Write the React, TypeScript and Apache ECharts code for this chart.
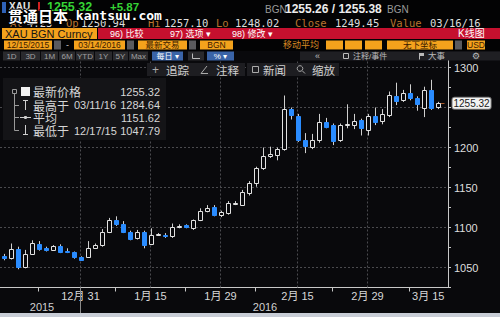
import React, { useEffect, useRef } from 'react';
import * as echarts from 'echarts';

// ---------- data ----------
const dates = [
  '2015-12-15','2015-12-16','2015-12-17','2015-12-18','2015-12-21','2015-12-22','2015-12-23','2015-12-24','2015-12-28','2015-12-29','2015-12-30','2015-12-31',
  '2016-01-04','2016-01-05','2016-01-06','2016-01-07','2016-01-08','2016-01-11','2016-01-12','2016-01-13','2016-01-14','2016-01-15',
  '2016-01-18','2016-01-19','2016-01-20','2016-01-21','2016-01-22','2016-01-25','2016-01-26','2016-01-27','2016-01-28','2016-01-29',
  '2016-02-01','2016-02-02','2016-02-03','2016-02-04','2016-02-05','2016-02-08','2016-02-09','2016-02-10','2016-02-11','2016-02-12',
  '2016-02-15','2016-02-16','2016-02-17','2016-02-18','2016-02-19','2016-02-22','2016-02-23','2016-02-24','2016-02-25','2016-02-26','2016-02-29',
  '2016-03-01','2016-03-02','2016-03-03','2016-03-04','2016-03-07','2016-03-08','2016-03-09','2016-03-10','2016-03-11','2016-03-14','2016-03-15',
];
const opens = [
  1064, 1062, 1073, 1051, 1067, 1080, 1074, 1072, 1077, 1071, 1069, 1063,
  1063, 1075, 1078, 1094, 1110, 1105, 1094, 1087, 1094, 1080, 1091, 1091, 1089, 1101, 1103, 1099, 1109, 1121, 1126, 1116,
  1118, 1130, 1128, 1143, 1156, 1174, 1190, 1191, 1198, 1248, 1240, 1210, 1201, 1209, 1232, 1228, 1209, 1229, 1228, 1234, 1222,
  1239, 1233, 1241, 1264, 1260, 1268, 1262, 1250, 1272, 1250.94,
];
const closes = [
  1062, 1073, 1051, 1067, 1081, 1073, 1072, 1077, 1070, 1070, 1063, 1060,
  1074, 1078, 1094, 1110, 1104, 1095, 1086, 1094, 1078, 1091, 1092, 1089, 1101, 1102, 1101, 1109, 1121, 1125, 1116, 1119,
  1131, 1131, 1144, 1156, 1174, 1190, 1192, 1198, 1248, 1241, 1209, 1202, 1210, 1232, 1226, 1208, 1228, 1230, 1233, 1224, 1239,
  1232, 1242, 1266, 1258, 1268, 1262, 1254, 1272, 1249.45, 1255.32,
];
const lows = [
  1059, 1060, 1047.79, 1049, 1066, 1071, 1070, 1071, 1068, 1068, 1061, 1059,
  1062, 1074, 1076, 1093, 1102, 1093, 1084, 1085, 1074, 1078, 1090, 1087, 1087, 1099, 1099, 1097, 1108, 1119, 1114, 1113,
  1116, 1128, 1127, 1140, 1151, 1172, 1187, 1184, 1196, 1235, 1207, 1193, 1198, 1206, 1224, 1203, 1207, 1224, 1223, 1215, 1215,
  1228, 1229, 1238, 1253, 1257, 1259, 1246, 1238, 1247, 1248.02,
];
const highs = [
  1067, 1080, 1076, 1072, 1084, 1083, 1076, 1078, 1079, 1074, 1070, 1064,
  1083, 1080, 1098, 1112, 1114, 1108, 1096, 1097, 1096, 1099, 1093, 1093, 1105, 1104, 1104, 1110, 1124, 1128, 1128, 1121,
  1133, 1133, 1147, 1158, 1176, 1200, 1201, 1200, 1265, 1250, 1242, 1218, 1217, 1242, 1237, 1230, 1230, 1254, 1242, 1236, 1242,
  1250, 1248, 1270, 1281, 1272, 1279, 1264, 1276, 1284.64, 1257.10,
];
const lastPrice = 1255.32;
const gridLevels = [1050, 1100, 1150, 1200, 1250, 1300];
const labelDates = ['2015-12-31', '2016-01-15', '2016-01-29', '2016-02-15', '2016-02-29', '2016-03-15'];
const gridDates = ['2015-12-31', '2016-01-15', '2016-01-29', '2016-02-15', '2016-02-29'];
const tickIndices = [5, 16, 26, 36, 47, 58];
const yearLabels = ['2015', '2016'];
const legendLabels = ['最新价格', '最高于', '平均', '最低于'];
const legendDates = ['', '03/11/16', '', '12/17/15'];
const legendValues = ['1255.32', '1284.64', '1151.62', '1047.79'];
const sparkValues = [1256.8, 1256.9, 1256.5, 1256.9, 1256.7, 1256.2, 1255.9, 1256.3, 1255.6, 1255.2, 1255.7, 1254.9, 1254.3, 1253.6];
const quoteLabels = ['At', 'Op', 'Hi', 'Lo', 'Close', 'Value'];
const quoteValues = ['4:23', '1250.94', '1257.10', '1248.02', '1249.45', '03/16/16'];
const rangeButtons = ['1D', '3D', '1M', '6M', 'YTD', '1Y', '5Y', 'Max'];
const bidAsk = ['1255.26', '1255.38'];

// ---------- styles ----------
const FONT = "'Liberation Sans', 'Noto Sans CJK SC', sans-serif";
const CJK = "'Noto Sans CJK SC', sans-serif";
const MONO = "'DejaVu Sans Mono', 'Liberation Mono', monospace";
const DOWN = '#2a8cff';
const UP_BORDER = '#e2e2e2';
const WICK = '#cfcfcf';
const BG = '#09090c';
const ORANGE = '#f4a21c';

function renderCandle(params: any, api: any) {
  const i = api.value(0);
  const o = api.value(1), c = api.value(2), l = api.value(3), h = api.value(4);
  const po = api.coord([i, o]);
  const pc = api.coord([i, c]);
  const pl = api.coord([i, l]);
  const ph = api.coord([i, h]);
  const cx = Math.round(po[0]);
  const up = c >= o;
  const top = Math.round(Math.min(po[1], pc[1]));
  const bot = Math.round(Math.max(po[1], pc[1]));
  const hgt = Math.max(bot - top, 1);
  return {
    type: 'group',
    children: [
      { type: 'line', shape: { x1: cx + 0.5, y1: ph[1], x2: cx + 0.5, y2: pl[1] }, style: { stroke: WICK, lineWidth: 1 } },
      {
        type: 'rect',
        shape: { x: cx - 1.5, y: top + 0.5, width: 4, height: hgt },
        style: up ? { fill: BG, stroke: UP_BORDER, lineWidth: 1 } : { fill: DOWN, stroke: DOWN, lineWidth: 1 },
      },
    ],
  };
}

const T = (x: number, y: number, text: string, o: any = {}) => ({
  type: 'text', x, y, z: 101, silent: true,
  style: {
    text, fill: o.fill || '#d6d6d6', fontSize: o.size || 11, fontFamily: o.family || FONT,
    fontWeight: o.weight || 'normal', align: o.align || 'left', verticalAlign: 'middle',
    stroke: o.stroke, lineWidth: o.lw || 0,
  },
});
const R = (x: number, y: number, w: number, h: number, fill: string, extra: any = {}) => ({
  type: 'rect', z: 100, silent: true, shape: { x, y, width: w, height: h }, style: { fill, ...extra },
});
const L = (x1: number, y1: number, x2: number, y2: number, stroke = '#9a9a9a', w = 1) => ({
  type: 'line', z: 101, silent: true, shape: { x1, y1, x2, y2 }, style: { stroke, lineWidth: w },
});

function buildGraphic() {
  const els: any[] = [];
  // header background
  els.push(R(0, 0, 500, 51, '#030304'));
  // row 1
  els.push(R(2, 2, 4, 11, '#2f62b8'));
  els.push(T(9, 6.5, 'XAU', { fill: '#e6e6e6', size: 10, weight: 'bold' }));
  els.push(R(38, 2, 2, 9, '#d42020'));
  els.push(T(47, 6.5, closes[closes.length - 1].toFixed(2), { fill: '#35d435', size: 12.5, weight: 'bold' }));
  els.push(T(110, 6.5, '+' + (closes[closes.length - 1] - closes[closes.length - 2]).toFixed(2), { fill: '#35d435', size: 11.5, weight: 'bold' }));
  els.push(T(265, 9, 'BGN', { fill: '#9a9a9a', size: 10 }));
  els.push(T(285, 9, `${bidAsk[0]} / ${bidAsk[1]}`, { fill: '#ececec', size: 12, weight: 'bold' }));
  els.push(T(387, 9, 'BGN', { fill: '#9a9a9a', size: 10 }));
  // row 2
  const qlx = [10, 66, 148, 216, 295, 390];
  const qvx = [27, 81, 164, 235, 335, 430];
  quoteLabels.forEach((q, i) => {
    els.push(T(qlx[i], 23, q, { fill: '#b8742e', size: 10.5, family: MONO }));
    els.push(T(qvx[i], 23, quoteValues[i], { fill: '#dedede', size: 10.5, family: MONO }));
  });
  // watermark (one rich text)
  els.push({
    type: 'text', x: 8, y: 15, z: 102, silent: true,
    style: {
      text: '{a|贯通日本}{b| kantsuu.com}',
      fill: '#ffffff', stroke: '#000', lineWidth: 2, fontSize: 14, fontFamily: CJK, fontWeight: 'bold',
      align: 'left', verticalAlign: 'middle',
      rich: {
        a: { fontSize: 15, fontFamily: CJK, fontWeight: 'bold', fill: '#ffffff', stroke: '#000', lineWidth: 2 },
        b: { fontSize: 13, fontFamily: MONO, fontWeight: 'bold', fill: '#ffffff', stroke: '#000', lineWidth: 2 },
      },
    },
  });
  // row 3
  els.push(R(2, 28, 95, 11, ORANGE));
  els.push(T(5, 33.5, 'XAU BGN Curncy', { fill: '#141414', size: 11 }));
  els.push(R(98, 28, 402, 11, '#c5102e'));
  els.push(T(110, 33.5, '96) 比较', { fill: '#fff', size: 9 }));
  els.push(T(170, 33.5, '97) 选项 ▾', { fill: '#fff', size: 9 }));
  els.push(T(232, 33.5, '98) 修改 ▾', { fill: '#fff', size: 9 }));
  els.push(T(458, 33.5, 'K线图', { fill: '#fff', size: 10 }));
  // row 4
  const ob = (x: number, w: number, t: string) => {
    els.push(R(x, 40.5, w, 9, ORANGE));
    if (t) els.push(T(x + w / 2, 45, t, { fill: '#3a1a00', size: 8.5, align: 'center' }));
  };
  const gb = (x: number) => els.push(R(x, 40.5, 7, 9, '#5a5a5e'));
  ob(4, 48, '12/15/2015'); gb(54);
  els.push(T(66, 45, '-', { fill: '#ccc', size: 9 }));
  ob(74, 51, '03/14/2016'); gb(127);
  ob(138, 49, '最新交易'); gb(189);
  ob(200, 33, 'BGN');
  els.push(T(283, 45, '移动平均', { fill: '#d88a22', size: 9 }));
  ob(326, 17, ''); ob(345, 17, ''); ob(365, 17, '');
  ob(387, 66, '无下坐标'); gb(455);
  ob(467, 18, 'USD');
  // row 5
  const bx = [3, 21, 41, 59, 76, 95, 113, 129];
  const bw = [17, 19, 17, 16, 18, 17, 15, 19];
  rangeButtons.forEach((b, i) => {
    els.push(R(bx[i], 51.5, bw[i], 9, '#2a2a2d'));
    els.push(T(bx[i] + bw[i] / 2, 56, b, { fill: '#a0a0a0', size: 8, align: 'center' }));
  });
  els.push(R(152, 51.5, 31, 9, '#3a64a8'));
  els.push(T(167.5, 56, '每日 ▾', { fill: '#fff', size: 8, align: 'center' }));
  els.push(R(188, 51.5, 16, 9, '#2a2a2d'));
  els.push(L(192.5, 53.5, 192.5, 58.5, '#bbb'));
  els.push(L(192.5, 58.5, 200, 58.5, '#bbb'));
  els.push(R(207, 51.5, 27, 9, '#3a64a8'));
  els.push(T(220.5, 56, '% ▾', { fill: '#fff', size: 8, align: 'center' }));
  els.push(R(300, 51.5, 200, 9, '#1f1f23'));
  els.push(T(315, 56, '«', { fill: '#bbb', size: 9 }));
  els.push(R(343.5, 53.5, 5, 5, 'none', { stroke: '#bbb', lineWidth: 1 }));
  els.push(T(353, 56, '注释/事件', { fill: '#bbb', size: 8 }));
  els.push(L(419.5, 53, 419.5, 59.5, '#bbb'));
  els.push(R(420, 53, 4, 3, '#bbb'));
  els.push(T(428, 56, '大事', { fill: '#bbb', size: 8.5 }));
  els.push(T(472, 56, '⚙', { fill: '#bbb', size: 9, family: "'DejaVu Sans', sans-serif" }));
  // row 6
  els.push(R(147, 63, 98, 13, '#1d1d21'));
  els.push(R(247, 63, 92, 13, '#1d1d21'));
  els.push(T(152, 69.5, '+', { fill: '#aaa', size: 12 }));
  els.push(T(166, 69.5, '追踪', { fill: '#d0d0d0', size: 11.5, family: CJK }));
  els.push(L(201, 73.5, 207, 66, '#aaa'));
  els.push(L(201, 73.5, 208, 73.5, '#aaa'));
  els.push(T(216, 69.5, '注释', { fill: '#d0d0d0', size: 11.5, family: CJK }));
  els.push(R(252.5, 66.5, 6, 6, 'none', { stroke: '#aaa', lineWidth: 1 }));
  els.push(T(263, 69.5, '新闻', { fill: '#d0d0d0', size: 11.5, family: CJK }));
  els.push({ type: 'circle', z: 101, silent: true, shape: { cx: 300, cy: 68.5, r: 2.8 }, style: { fill: 'none', stroke: '#aaa', lineWidth: 1 } });
  els.push(L(302, 70.5, 305, 73.5, '#aaa'));
  els.push(T(312, 69.5, '缩放', { fill: '#d0d0d0', size: 11.5, family: CJK }));
  // legend panel
  els.push(R(3, 78, 163, 62, '#141417'));
  els.push(R(12.5, 89.5, 4, 4, 'none', { stroke: '#9a9a9a', lineWidth: 1 }));
  els.push(L(14.5, 94, 14.5, 130.5));
  els.push(L(14.5, 105.5, 19, 105.5));
  els.push(L(14.5, 117.5, 19, 117.5));
  els.push(L(14.5, 130.5, 19, 130.5));
  els.push(R(21, 87, 9, 9, '#f2f2f2'));
  els.push(L(25.5, 100, 25.5, 110, '#cfcfcf'));
  els.push(L(23, 100.5, 28, 100.5, '#cfcfcf'));
  els.push(L(20, 117.5, 31, 117.5, '#cfcfcf'));
  els.push({ type: 'circle', z: 101, silent: true, shape: { cx: 25.5, cy: 117.5, r: 1.6 }, style: { fill: '#cfcfcf' } });
  els.push(L(25.5, 125, 25.5, 135, '#cfcfcf'));
  els.push(L(23, 134.5, 28, 134.5, '#cfcfcf'));
  const rowsY = [91.5, 105, 117.5, 130.5];
  legendLabels.forEach((lab, i) => {
    els.push(T(33, rowsY[i], lab, { fill: '#d6d6d6', size: 12, family: CJK }));
    if (legendDates[i]) els.push(T(74, rowsY[i], legendDates[i], { fill: '#d6d6d6', size: 11 }));
    els.push(T(160, rowsY[i], legendValues[i], { fill: '#d6d6d6', size: 11, align: 'right' }));
  });
  // bottom
  els.push(T(42, 307, yearLabels[0], { fill: '#d0d0d0', size: 11, align: 'center' }));
  els.push(T(265, 307, yearLabels[1], { fill: '#d0d0d0', size: 11, align: 'center' }));
  els.push(L(80.5, 288, 80.5, 313, '#8a8a8a'));
  els.push(R(0, 313, 500, 4, '#c8cdd6'));
  return els;
}

function buildOption() {
  const candleData = opens.map((o, i) => [i, o, closes[i], lows[i], highs[i]]);
  const priceLabel = {
    show: true, position: 'end', distance: 8, formatter: () => lastPrice.toFixed(2),
    backgroundColor: '#f2f2f2', borderColor: '#777', borderWidth: 1, borderRadius: 2,
    padding: [1, 1, 0, 1], color: '#1a1a1a', fontSize: 10, fontFamily: FONT,
  };
  const priceLine = { color: '#a85a2a', type: 'solid', width: 1 };
  return {
    animation: false,
    backgroundColor: BG,
    grid: [
      { left: 0, top: 59.5, width: 448, height: 228 },
      { left: 165, top: 4, width: 46, height: 9 },
    ],
    xAxis: [
      {
        type: 'category', gridIndex: 0, data: dates, boundaryGap: true,
        axisLine: { show: true, lineStyle: { color: '#c8c8c8', width: 1 } },
        axisTick: {
          show: true, alignWithLabel: true, length: 4,
          interval: (idx: number) => tickIndices.includes(idx),
          lineStyle: { color: '#c8c8c8' },
        },
        axisLabel: {
          interval: (idx: number, val: string) => labelDates.includes(val),
          formatter: (v: string) => { const p = v.split('-'); return `${+p[1]}月 ${+p[2]}`; },
          color: '#d8d8d8', fontSize: 11, fontFamily: FONT, margin: 3, alignMaxLabel: 'right',
        },
        splitLine: { show: false },
      },
      { type: 'category', gridIndex: 1, show: false, boundaryGap: false, data: sparkValues.map((_, i) => String(i)) },
    ],
    yAxis: [
      {
        type: 'value', gridIndex: 0, position: 'right', min: 1025, max: 1310, interval: 25,
        axisLine: { show: true, lineStyle: { color: '#c8c8c8', width: 1 } },
        axisTick: { show: true, length: 3, lineStyle: { color: '#c8c8c8' } },
        axisLabel: {
          show: true, margin: 6, color: '#dedede', fontSize: 11, fontFamily: FONT,
          formatter: (v: number) => (v % 50 === 0 && v !== 1250 ? String(v) : ''),
        },
        splitLine: { show: false },
      },
      { type: 'value', gridIndex: 1, show: false, scale: true },
    ],
    series: [
      {
        type: 'custom', name: 'XAU', xAxisIndex: 0, yAxisIndex: 0, z: 3,
        renderItem: renderCandle,
        encode: { x: 0, y: [1, 2, 3, 4] },
        data: candleData,
        clip: true,
        markLine: {
          silent: true, z: 1, symbol: ['none', 'none'], animation: false,
          label: { show: false },
          lineStyle: { color: '#4a4a4e', type: [2, 2], width: 1 },
          data: [
            ...gridLevels.map((v) => ({ yAxis: v })),
            ...gridDates.map((d) => ({ xAxis: d })),
            [
              { coord: [dates[62], lastPrice], label: priceLabel, lineStyle: priceLine },
              { coord: [dates[63], lastPrice], label: priceLabel, lineStyle: priceLine },
            ],
          ],
        },
      },
      {
        type: 'line', xAxisIndex: 1, yAxisIndex: 1, data: sparkValues, showSymbol: false, silent: true,
        lineStyle: { color: '#9a9a9a', width: 1 },
      },
    ],
    graphic: { elements: buildGraphic() },
  };
}

export default function App() {
  const ref = useRef<HTMLDivElement>(null);
  useEffect(() => {
    const chart = echarts.init(ref.current as HTMLDivElement, undefined, { renderer: 'svg' });
    chart.setOption(buildOption() as any);
    return () => chart.dispose();
  }, []);
  return <div ref={ref} style={{ position: 'fixed', left: 0, top: 0, width: 500, height: 317 }} />;
}
